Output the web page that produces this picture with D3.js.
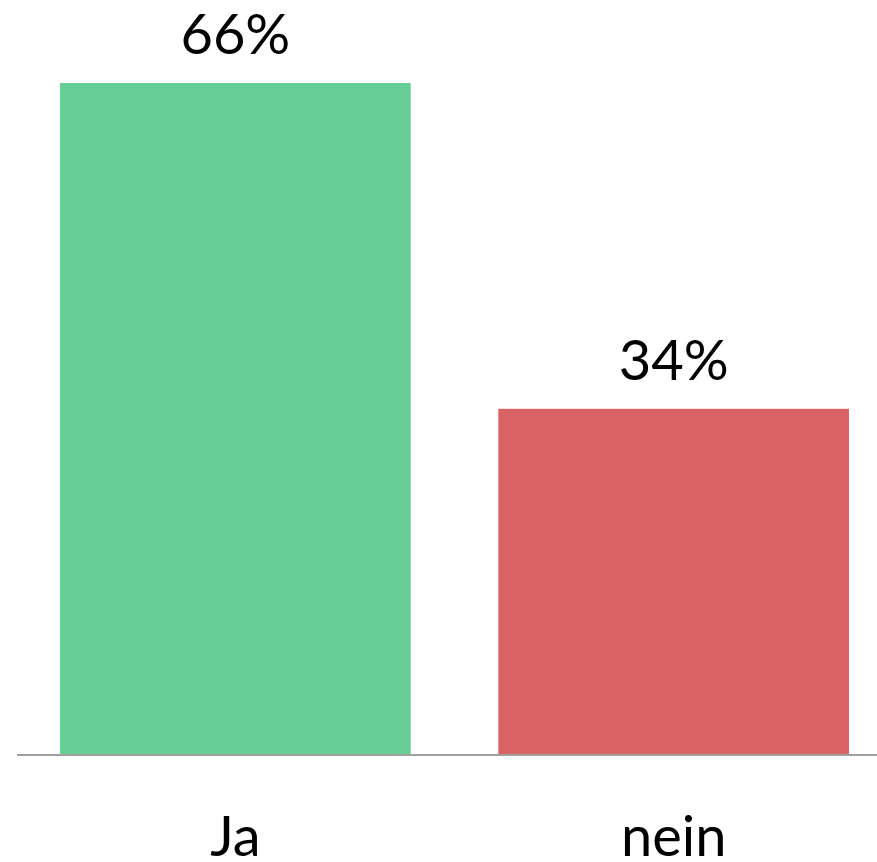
<!DOCTYPE html>
<html>
<head>
<meta charset="utf-8">
<script src="https://cdn.jsdelivr.net/npm/d3@7"></script>
<style>
  html, body { margin: 0; padding: 0; background: #fff; }
  svg { display: block; }
  text { font-family: Lato, "Open Sans", sans-serif; fill: #000; }
</style>
</head>
<body>
<svg id="chart" width="877" height="862"></svg>
<script>
const categories = ["Ja", "nein"];
const values = [66, 34];
const valueLabels = ["66%", "34%"];
const colors = ["#66cf95", "#d96363"];

const width = 877, height = 862;
const svg = d3.select("#chart");

const x = d3.scaleBand()
  .domain(categories)
  .range([16.2, 892.8])
  .paddingInner(0.2)
  .paddingOuter(0.1);

const y = d3.scaleLinear()
  .domain([0, 66])
  .range([755, 83]);

svg.selectAll("rect.bar")
  .data(values)
  .join("rect")
  .attr("class", "bar")
  .attr("x", (d, i) => x(categories[i]))
  .attr("width", x.bandwidth())
  .attr("y", d => y(d))
  .attr("height", d => y(0) - y(d))
  .attr("fill", (d, i) => colors[i]);

// baseline
svg.append("line")
  .attr("x1", 17).attr("x2", width)
  .attr("y1", y(0)).attr("y2", y(0))
  .attr("stroke", "#a0a0a0")
  .attr("stroke-width", 2);

// category labels
svg.selectAll("text.cat")
  .data(categories)
  .join("text")
  .attr("class", "cat")
  .attr("x", d => x(d) + x.bandwidth() / 2)
  .attr("y", 856)
  .attr("text-anchor", "middle")
  .style("font-size", "56px")
  .text(d => d);

// value labels
svg.selectAll("text.val")
  .data(values)
  .join("text")
  .attr("class", "val")
  .attr("x", (d, i) => x(categories[i]) + x.bandwidth() / 2)
  .attr("y", d => y(d) - 29)
  .attr("text-anchor", "middle")
  .style("font-size", "56px")
  .text((d, i) => valueLabels[i]);
</script>
</body>
</html>
